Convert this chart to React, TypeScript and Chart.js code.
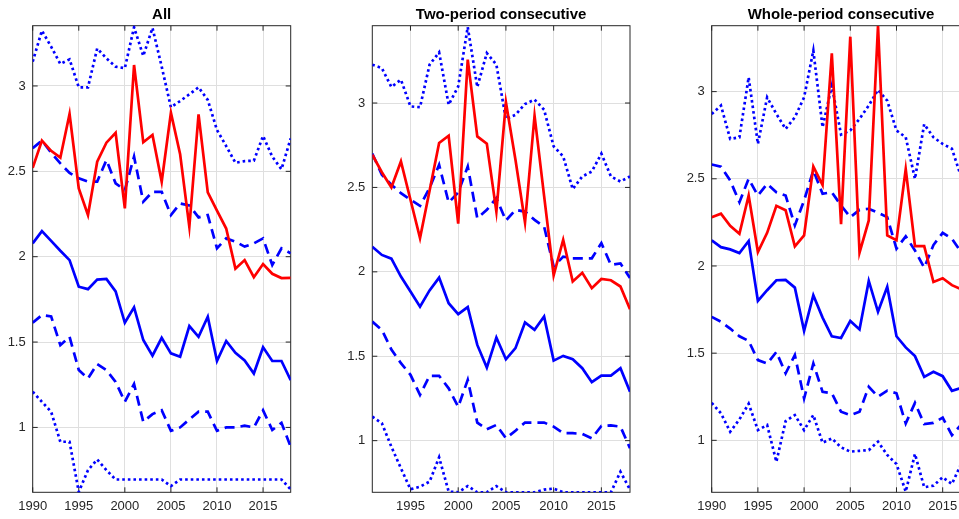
import React, { useEffect, useRef } from "react";
import { Chart, registerables } from "chart.js";

Chart.register(...registerables);

// ---------- DATA ----------
const titles = ["All", "Two-period consecutive", "Whole-period consecutive"];

const yearsAll = [1990, 1991, 1992, 1993, 1994, 1995, 1996, 1997, 1998, 1999, 2000, 2001, 2002, 2003, 2004, 2005, 2006, 2007, 2008, 2009, 2010, 2011, 2012, 2013, 2014, 2015, 2016, 2017, 2018];
const yearsTwo = [1991, 1992, 1993, 1994, 1995, 1996, 1997, 1998, 1999, 2000, 2001, 2002, 2003, 2004, 2005, 2006, 2007, 2008, 2009, 2010, 2011, 2012, 2013, 2014, 2015, 2016, 2017, 2018];
const yearsWhole = [1990, 1991, 1992, 1993, 1994, 1995, 1996, 1997, 1998, 1999, 2000, 2001, 2002, 2003, 2004, 2005, 2006, 2007, 2008, 2009, 2010, 2011, 2012, 2013, 2014, 2015, 2016, 2017, 2018];

const xTicksAll = [1990, 1995, 2000, 2005, 2010, 2015];
const xTicksTwo = [1995, 2000, 2005, 2010, 2015];
const xTicksWhole = [1990, 1995, 2000, 2005, 2010, 2015];
const yTicks = [1, 1.5, 2, 2.5, 3];

// Panel "All"
const allRed = [2.52, 2.68, 2.62, 2.58, 2.836, 2.40, 2.244, 2.556, 2.668, 2.726, 2.283, 3.123, 2.67, 2.713, 2.439, 2.843, 2.60, 2.175, 2.834, 2.377, 2.27, 2.165, 1.93, 1.98, 1.88, 1.957, 1.90, 1.875, 1.876];
const allDotUpper = [3.142, 3.324, 3.23, 3.129, 3.156, 2.992, 2.992, 3.22, 3.162, 3.113, 3.104, 3.344, 3.176, 3.34, 3.113, 2.875, 2.912, 2.951, 2.992, 2.918, 2.742, 2.648, 2.55, 2.56, 2.562, 2.707, 2.586, 2.512, 2.693];
const allDashUpper = [2.635, 2.68, 2.609, 2.547, 2.49, 2.459, 2.44, 2.44, 2.566, 2.43, 2.39, 2.586, 2.322, 2.38, 2.38, 2.244, 2.312, 2.30, 2.23, 2.244, 2.049, 2.107, 2.088, 2.059, 2.078, 2.107, 1.951, 2.049, 2.02];
const allSolid = [2.078, 2.15, 2.093, 2.035, 1.98, 1.824, 1.81, 1.866, 1.87, 1.797, 1.613, 1.703, 1.512, 1.42, 1.525, 1.434, 1.414, 1.594, 1.531, 1.648, 1.389, 1.506, 1.437, 1.392, 1.316, 1.469, 1.389, 1.389, 1.277];
const allDashLower = [1.613, 1.658, 1.65, 1.482, 1.531, 1.336, 1.287, 1.371, 1.336, 1.267, 1.15, 1.254, 1.033, 1.078, 1.101, 0.98, 1.0, 1.047, 1.092, 1.092, 0.98, 1.0, 1.0, 1.01, 1.0, 1.10, 0.985, 1.027, 0.886];
const allDotLower = [1.209, 1.15, 1.092, 0.916, 0.916, 0.622, 0.75, 0.812, 0.75, 0.695, 0.695, 0.695, 0.695, 0.695, 0.695, 0.656, 0.695, 0.695, 0.695, 0.695, 0.695, 0.695, 0.695, 0.695, 0.695, 0.695, 0.695, 0.695, 0.637];

// Panel "Two-period consecutive"
const twoRed = [2.694, 2.59, 2.50, 2.654, 2.427, 2.20, 2.48, 2.763, 2.806, 2.285, 3.257, 2.802, 2.759, 2.357, 3.004, 2.664, 2.292, 2.925, 2.45, 1.979, 2.19, 1.943, 1.994, 1.903, 1.958, 1.95, 1.913, 1.779];
const twoDotUpper = [3.227, 3.207, 3.095, 3.138, 2.98, 2.975, 3.227, 3.30, 2.99, 3.098, 3.45, 3.095, 3.296, 3.227, 2.905, 2.93, 2.994, 3.02, 2.96, 2.743, 2.684, 2.49, 2.565, 2.594, 2.70, 2.565, 2.535, 2.565];
const twoDashUpper = [2.70, 2.575, 2.516, 2.466, 2.427, 2.391, 2.496, 2.634, 2.411, 2.47, 2.624, 2.318, 2.367, 2.437, 2.304, 2.367, 2.357, 2.308, 2.268, 2.031, 2.09, 2.08, 2.08, 2.08, 2.17, 2.041, 2.05, 1.963];
const twoSolid = [2.148, 2.10, 2.078, 1.972, 1.883, 1.794, 1.89, 1.966, 1.814, 1.749, 1.791, 1.567, 1.433, 1.611, 1.482, 1.548, 1.70, 1.656, 1.735, 1.474, 1.502, 1.482, 1.429, 1.346, 1.385, 1.385, 1.429, 1.29];
const twoDashLower = [1.705, 1.656, 1.54, 1.459, 1.39, 1.271, 1.384, 1.384, 1.31, 1.20, 1.36, 1.107, 1.067, 1.093, 1.014, 1.059, 1.107, 1.107, 1.107, 1.083, 1.044, 1.044, 1.04, 1.014, 1.087, 1.09, 1.083, 0.955];
const twoDotLower = [1.142, 1.103, 0.964, 0.836, 0.712, 0.727, 0.757, 0.901, 0.698, 0.694, 0.731, 0.694, 0.694, 0.731, 0.694, 0.694, 0.694, 0.694, 0.71, 0.716, 0.694, 0.694, 0.694, 0.694, 0.694, 0.694, 0.816, 0.71];

// Panel "Whole-period consecutive"
const wholeRed = [2.28, 2.30, 2.23, 2.185, 2.404, 2.08, 2.19, 2.345, 2.32, 2.112, 2.175, 2.57, 2.464, 3.22, 2.24, 3.315, 2.077, 2.261, 3.378, 2.175, 2.148, 2.555, 2.114, 2.114, 1.908, 1.93, 1.89, 1.866, 1.85];
const wholeDotUpper = [2.872, 2.92, 2.729, 2.738, 3.082, 2.70, 2.967, 2.872, 2.786, 2.853, 2.967, 3.235, 2.796, 3.034, 2.754, 2.777, 2.844, 2.92, 3.01, 2.948, 2.777, 2.738, 2.50, 2.813, 2.738, 2.70, 2.672, 2.51, 2.45];
const wholeDashUpper = [2.582, 2.57, 2.49, 2.366, 2.50, 2.404, 2.471, 2.423, 2.404, 2.233, 2.376, 2.548, 2.414, 2.423, 2.347, 2.28, 2.322, 2.328, 2.305, 2.28, 2.099, 2.17, 2.089, 1.99, 2.12, 2.19, 2.156, 2.08, 2.05];
const wholeSolid = [2.147, 2.108, 2.095, 2.074, 2.143, 1.80, 1.861, 1.918, 1.92, 1.876, 1.628, 1.832, 1.704, 1.597, 1.587, 1.685, 1.636, 1.914, 1.737, 1.88, 1.597, 1.533, 1.483, 1.364, 1.393, 1.368, 1.284, 1.30, 1.28];
const wholeDashLower = [1.708, 1.68, 1.641, 1.597, 1.57, 1.46, 1.44, 1.507, 1.384, 1.489, 1.24, 1.441, 1.278, 1.27, 1.164, 1.145, 1.164, 1.307, 1.25, 1.285, 1.27, 1.097, 1.215, 1.093, 1.10, 1.13, 1.03, 1.09, 1.1];
const wholeDotLower = [1.215, 1.155, 1.049, 1.12, 1.21, 1.059, 1.088, 0.877, 1.11, 1.145, 1.059, 1.145, 0.986, 1.011, 0.96, 0.935, 0.94, 0.944, 0.992, 0.916, 0.864, 0.706, 0.922, 0.731, 0.74, 0.788, 0.75, 0.864, 0.85];

// ---------- STYLES / LAYOUT ----------
const RED = "#ff0000";
const BLUE = "#0000ff";
const DOT = [2.6, 3];
const DASH = [10, 6];
const lineStyles = [
  { color: RED, dash: [] as number[] },
  { color: BLUE, dash: DOT },
  { color: BLUE, dash: DASH },
  { color: BLUE, dash: [] as number[] },
  { color: BLUE, dash: DASH },
  { color: BLUE, dash: DOT },
];

const FONT = "'Liberation Sans', Arial, Helvetica, sans-serif";
const TEXT = "#262626";

const panels = [
  {
    title: titles[0],
    years: yearsAll,
    series: [allRed, allDotUpper, allDashUpper, allSolid, allDashLower, allDotLower],
    xMin: 1990, xMax: 2018, yMin: 0.62, yMax: 3.353, xTicks: xTicksAll,
    canvasLeft: 0, yAxisW: 32.7, padRight: 9.3,
  },
  {
    title: titles[1],
    years: yearsTwo,
    series: [twoRed, twoDotUpper, twoDashUpper, twoSolid, twoDashLower, twoDotLower],
    xMin: 1991, xMax: 2018, yMin: 0.694, yMax: 3.458, xTicks: xTicksTwo,
    canvasLeft: 340, yAxisW: 32.3, padRight: 10,
  },
  {
    title: titles[2],
    years: yearsWhole,
    series: [wholeRed, wholeDotUpper, wholeDashUpper, wholeSolid, wholeDashLower, wholeDotLower],
    xMin: 1990, xMax: 2018, yMin: 0.702, yMax: 3.378, xTicks: xTicksWhole,
    canvasLeft: 680, yAxisW: 31.7, padRight: 9.6,
  },
];

const CANVAS_W = 300;
const CANVAS_H = 519;
const X_AXIS_H = 26.7;

const framePlugin = {
  id: "matlabFrame",
  beforeDatasetsDraw(chart: any) {
    const { ctx, chartArea: a, scales } = chart;
    ctx.save();
    ctx.strokeStyle = TEXT;
    ctx.lineWidth = 1;
    ctx.strokeRect(a.left, a.top, a.right - a.left, a.bottom - a.top);
    const L = 5;
    ctx.beginPath();
    scales.x.ticks.forEach((t: any) => {
      const px = scales.x.getPixelForValue(t.value);
      ctx.moveTo(px, a.bottom);
      ctx.lineTo(px, a.bottom - L);
      ctx.moveTo(px, a.top);
      ctx.lineTo(px, a.top + L);
    });
    scales.y.ticks.forEach((t: any) => {
      const py = scales.y.getPixelForValue(t.value);
      ctx.moveTo(a.left, py);
      ctx.lineTo(a.left + L, py);
      ctx.moveTo(a.right, py);
      ctx.lineTo(a.right - L, py);
    });
    ctx.stroke();
    ctx.restore();
  },
};

function Panel({ p }: { p: (typeof panels)[number] }) {
  const ref = useRef<HTMLCanvasElement | null>(null);
  useEffect(() => {
    if (!ref.current) return;
    const chart = new Chart(ref.current, {
      type: "line",
      data: {
        datasets: p.series.map((vals, i) => ({
          data: p.years.map((x, j) => ({ x, y: vals[j] })),
          borderColor: lineStyles[i].color,
          backgroundColor: lineStyles[i].color,
          borderDash: lineStyles[i].dash,
          borderWidth: 2.7,
          borderCapStyle: "butt",
          borderJoinStyle: "miter",
          pointRadius: 0,
          fill: false,
          tension: 0,
          clip: 0,
        })),
      },
      options: {
        responsive: false,
        animation: false,
        devicePixelRatio: 1,
        layout: { padding: { left: 0, right: p.padRight, top: 0, bottom: 0 } },
        plugins: {
          legend: { display: false },
          tooltip: { enabled: false },
          title: {
            display: true,
            text: p.title,
            fullSize: false,
            color: "#000000",
            font: { family: FONT, size: 15, weight: "bold", lineHeight: 1.2 },
            padding: { top: 5.7, bottom: 2 },
          },
        },
        scales: {
          x: {
            type: "linear",
            min: p.xMin,
            max: p.xMax,
            afterBuildTicks: (s: any) => {
              s.ticks = p.xTicks.map((v) => ({ value: v }));
            },
            afterFit: (s: any) => {
              s.height = X_AXIS_H;
            },
            grid: { color: "#dfdfdf", lineWidth: 1, drawTicks: false },
            border: { display: false },
            ticks: {
              padding: 6.6,
              color: TEXT,
              font: { family: FONT, size: 13 },
              maxRotation: 0,
              autoSkip: false,
              callback: (v: any) => String(v),
            },
          },
          y: {
            type: "linear",
            min: p.yMin,
            max: p.yMax,
            afterBuildTicks: (s: any) => {
              s.ticks = yTicks.map((v) => ({ value: v }));
            },
            afterFit: (s: any) => {
              s.width = p.yAxisW;
            },
            grid: { color: "#dfdfdf", lineWidth: 1, drawTicks: false },
            border: { display: false },
            ticks: {
              padding: 7,
              color: TEXT,
              font: { family: FONT, size: 13 },
              autoSkip: false,
              callback: (v: any) => String(v),
            },
          },
        },
      } as any,
      plugins: [framePlugin],
    });
    return () => chart.destroy();
  }, [p]);
  return (
    <canvas
      ref={ref}
      width={CANVAS_W}
      height={CANVAS_H}
      style={{ position: "absolute", left: p.canvasLeft, top: 0, width: CANVAS_W, height: CANVAS_H }}
    />
  );
}

export default function App() {
  return (
    <div
      style={{
        position: "fixed",
        left: 0,
        top: 0,
        width: 959,
        height: 519,
        overflow: "hidden",
        background: "#ffffff",
      }}
    >
      {panels.map((p, i) => (
        <Panel key={i} p={p} />
      ))}
    </div>
  );
}
